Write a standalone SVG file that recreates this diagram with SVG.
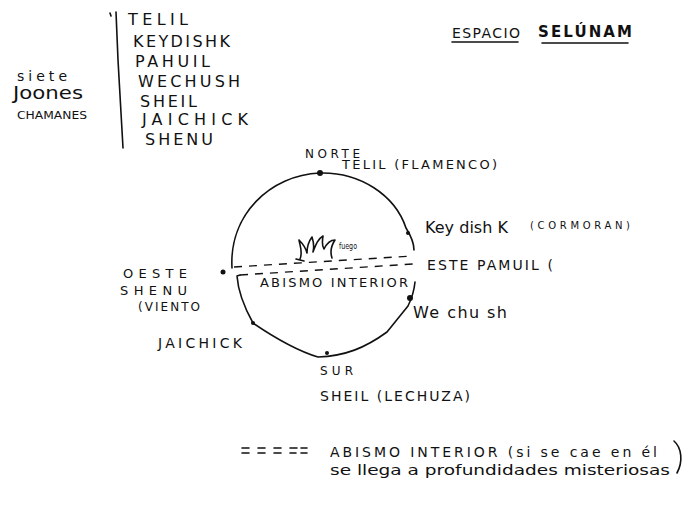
<svg xmlns="http://www.w3.org/2000/svg" width="694" height="516" viewBox="0 0 694 516">
<style>
text{font-family:"DejaVu Sans","Liberation Sans",sans-serif;fill:#111;}
.ln{fill:none;stroke:#111;stroke-width:1.6;stroke-linecap:round;stroke-linejoin:round;}
.dash{fill:none;stroke:#111;stroke-width:1.4;stroke-dasharray:8 7;}
.dot{fill:#111;}
</style>
<rect width="694" height="516" fill="#fff"/>
<g id="title">
<text x="452" y="38" font-size="14" textLength="68" lengthAdjust="spacing">ESPACIO</text>
<text x="538" y="37" font-size="15" font-weight="bold" textLength="94" lengthAdjust="spacing">SELÚNAM</text>
<path class="ln" d="M452,42 L518,42 M542,43 L628,43" stroke-width="1.4"/>
</g>
<g id="siete-joones">
<text x="17" y="81" font-size="14" textLength="50" lengthAdjust="spacing">siete</text>
<text x="13" y="99" font-size="17" textLength="70" lengthAdjust="spacingAndGlyphs">Joones</text>
<text x="17" y="119" font-size="10" textLength="70" lengthAdjust="spacingAndGlyphs">CHAMANES</text>
</g>
<g id="lista">
<path class="ln" d="M116,12 L118,60 L123,148 M110,13 L111,16"/>
<text x="128" y="25" font-size="16" textLength="60" lengthAdjust="spacing">TELIL</text>
<text x="133" y="47" font-size="16" textLength="97" lengthAdjust="spacing">KEYDISHK</text>
<text x="135" y="67" font-size="16" textLength="75" lengthAdjust="spacing">PAHUIL</text>
<text x="138" y="87" font-size="16" textLength="102" lengthAdjust="spacing">WECHUSH</text>
<text x="140" y="107" font-size="16" textLength="57" lengthAdjust="spacing">SHEIL</text>
<text x="142" y="125" font-size="16" textLength="106" lengthAdjust="spacing">JAICHICK</text>
<text x="145" y="145" font-size="16" textLength="68" lengthAdjust="spacing">SHENU</text>
</g>
<g id="circulo">
<path class="ln" d="M232,268 C229,215 270,175 320,173 C360,172 395,195 406,228 C411,236 414,242 414,250"/>
<path class="ln" d="M415,282 C414,292 412,298 408,306 L387,332 C365,348 345,356 318,357 C295,350 275,338 253,323 C243,305 238,290 237,276 L240,275"/>
<circle class="dot" cx="320" cy="173" r="3"/>
<circle class="dot" cx="408" cy="233" r="2"/>
<circle class="dot" cx="410" cy="298" r="3"/>
<circle class="dot" cx="253" cy="323" r="2"/>
<circle class="dot" cx="327" cy="353" r="2"/>
<circle class="dot" cx="223" cy="272" r="2.5"/>
</g>
<g id="connectors">
<path class="dash" d="M234,267 L413,256"/>
<path class="dash" d="M240,275 L413,264"/>
</g>
<g id="fuego">
<path class="ln" stroke-width="1.2" d="M300,259 C303,252 300,246 299,240 C304,245 306,249 307,253 C307,246 309,241 312,237 C314,243 314,248 313,252 C316,244 318,239 323,236 C322,242 322,246 324,249 C327,243 330,240 335,240 C331,246 330,252 332,258 M296,259 L304,261"/>
<text x="339" y="249" font-size="9" textLength="18" lengthAdjust="spacingAndGlyphs">fuego</text>
</g>
<g id="abismo-label">
<text x="260" y="287" font-size="13" textLength="148" lengthAdjust="spacing">ABISMO INTERIOR</text>
</g>
<g id="norte">
<text x="305" y="158" font-size="12" textLength="55" lengthAdjust="spacing">NORTE</text>
<text x="342" y="169" font-size="13" textLength="155" lengthAdjust="spacing">TELIL (FLAMENCO)</text>
</g>
<g id="keydishk">
<text x="425" y="233" font-size="16" textLength="83" lengthAdjust="spacing">Key dish K</text>
<text x="530" y="229" font-size="10" textLength="100" lengthAdjust="spacing">(CORMORAN)</text>
</g>
<g id="este">
<text x="427" y="270" font-size="14" textLength="126" lengthAdjust="spacing">ESTE PAMUIL (</text>
</g>
<g id="wechush">
<text x="413" y="318" font-size="16" textLength="94" lengthAdjust="spacing">We chu sh</text>
</g>
<g id="oeste">
<text x="123" y="278" font-size="13" textLength="64" lengthAdjust="spacing">OESTE</text>
<text x="120" y="295" font-size="13" textLength="67" lengthAdjust="spacing">SHENU</text>
<text x="138" y="311" font-size="12" textLength="62" lengthAdjust="spacing">(VIENTO</text>
</g>
<g id="jaichick">
<text x="158" y="348" font-size="14" textLength="84" lengthAdjust="spacing">JAICHICK</text>
</g>
<g id="sur">
<text x="320" y="375" font-size="12" textLength="33" lengthAdjust="spacing">SUR</text>
<text x="320" y="401" font-size="14" textLength="150" lengthAdjust="spacing">SHEIL (LECHUZA)</text>
</g>
<g id="leyenda">
<path class="ln" stroke-width="1.3" d="M242,448 h7 M258,448 h7 M274,448 h7 M290,448 h7 M301,448 h6 M242,453 h7 M258,453 h7 M274,453 h7 M290,453 h6 M301,453 h6"/>
<text x="330" y="457" font-size="14" textLength="327" lengthAdjust="spacing">ABISMO INTERIOR (si se cae en él</text>
<text x="330" y="475" font-size="14" textLength="340" lengthAdjust="spacingAndGlyphs">se llega a profundidades misteriosas</text>
<path class="ln" d="M674,441 C682,448 683,462 677,473"/>
</g>
</svg>
